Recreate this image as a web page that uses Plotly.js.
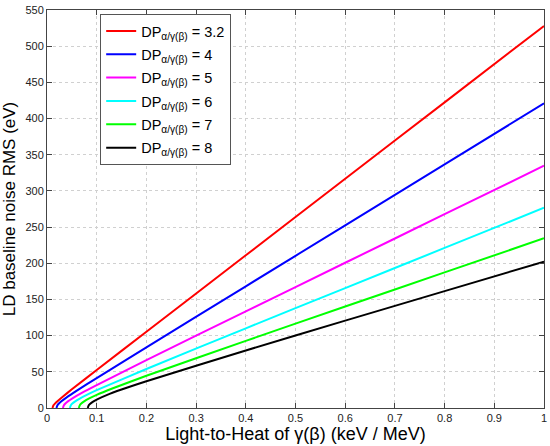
<!DOCTYPE html>
<html>
<head>
<meta charset="utf-8">
<script src="https://cdn.plot.ly/plotly-3.0.1.min.js"></script>
<style>html,body{margin:0;padding:0;background:#fff;}#chart{width:550px;height:446px;}</style>
</head>
<body>
<div id="chart"></div>
<script>
// Series labels and colours
var seriesNames = ["DP<sub>α/γ(β)</sub> = 3.2", "DP<sub>α/γ(β)</sub> = 4", "DP<sub>α/γ(β)</sub> = 5",
                   "DP<sub>α/γ(β)</sub> = 6", "DP<sub>α/γ(β)</sub> = 7", "DP<sub>α/γ(β)</sub> = 8"];
var seriesColors = ["#ff0000", "#0000ff", "#ff00ff", "#00ffff", "#00ff00", "#000000"];

// Values (x: light-to-heat, y: baseline noise RMS in eV)
var xDP32 = [0.011, 0.013, 0.016, 0.021, 0.031, 0.05, 0.1, 0.2, 0.4, 0.6, 0.8, 1.0];
var yDP32 = [0, 3.7, 6.1, 9.4, 15.3, 25.8, 52.5, 105.4, 211.1, 316.7, 422.4, 528];

var xDP4 = [0.019, 0.021, 0.024, 0.029, 0.039, 0.06, 0.1, 0.2, 0.4, 0.6, 0.8, 1.0];
var yDP4 = [0, 3.8, 6.2, 9.2, 14.3, 24.0, 41.3, 83.8, 168.2, 252.5, 336.7, 421];

var xDP5 = [0.032, 0.034, 0.037, 0.042, 0.052, 0.07, 0.1, 0.2, 0.4, 0.6, 0.8, 1.0];
var yDP5 = [0, 3.8, 6.2, 9.1, 13.7, 20.9, 31.7, 66.1, 133.6, 200.7, 267.8, 334.8];

var xDP6 = [0.046, 0.048, 0.051, 0.056, 0.066, 0.08, 0.1, 0.2, 0.4, 0.6, 0.8, 1.0];
var yDP6 = [0, 3.8, 6.1, 8.8, 13.1, 18.1, 24.6, 53.9, 110.1, 165.7, 221.2, 276.7];

var xDP7 = [0.064, 0.066, 0.069, 0.074, 0.084, 0.1, 0.13, 0.2, 0.4, 0.6, 0.8, 1.0];
var yDP7 = [0, 3.8, 6.1, 8.7, 12.8, 18.1, 26.6, 44.5, 92.8, 140.2, 187.4, 234.5];

var xDP8 = [0.082, 0.084, 0.087, 0.092, 0.102, 0.12, 0.15, 0.2, 0.4, 0.6, 0.8, 1.0];
var yDP8 = [0, 3.7, 5.9, 8.5, 12.3, 17.8, 25.5, 37.0, 79.5, 120.7, 161.5, 202.3];

var xs = [xDP32, xDP4, xDP5, xDP6, xDP7, xDP8];
var ys = [yDP32, yDP4, yDP5, yDP6, yDP7, yDP8];

var traces = xs.map(function (x, i) {
  return {
    x: x, y: ys[i], type: "scatter", mode: "lines",
    name: seriesNames[i], legendgroup: "g" + i,
    line: {color: seriesColors[i], width: 2, shape: "spline", smoothing: 0.6}
  };
});

var FONT = "Liberation Sans, Arial, sans-serif";

var axisCommon = {
  showline: true, mirror: "ticks", linecolor: "#444", linewidth: 1,
  ticks: "inside", ticklen: 5, tickcolor: "#444",
  showgrid: true, gridcolor: "#d0d0d0", griddash: "dot", gridwidth: 1,
  zeroline: false, automargin: false,
  tickfont: {family: FONT, size: 11, color: "#222"}
};

var layout = {
  width: 550, height: 446,
  margin: {l: 47, r: 6, t: 10, b: 38},
  paper_bgcolor: "#fff", plot_bgcolor: "#fff",
  font: {family: FONT, color: "#000"},
  showlegend: true,
  legend: {
    x: 0.107, y: 0.99, xanchor: "left", yanchor: "top",
    bgcolor: "#fff", bordercolor: "#555", borderwidth: 1,
    font: {family: FONT, size: 14.5, color: "#000"},
    itemwidth: 30, tracegroupgap: 1.5
  },
  xaxis: Object.assign({}, axisCommon, {
    range: [0, 1], dtick: 0.1, tick0: 0,
    title: {text: "Light-to-Heat of γ(β) (keV / MeV)", standoff: 4,
            font: {family: FONT, size: 18, color: "#000"}}
  }),
  yaxis: Object.assign({}, axisCommon, {
    range: [0, 550], dtick: 50, tick0: 0,
    title: {text: "LD baseline noise RMS (eV)", standoff: 6,
            font: {family: FONT, size: 17, color: "#000"}}
  })
};

Plotly.newPlot("chart", traces, layout, {displayModeBar: false, staticPlot: true});
</script>
</body>
</html>
